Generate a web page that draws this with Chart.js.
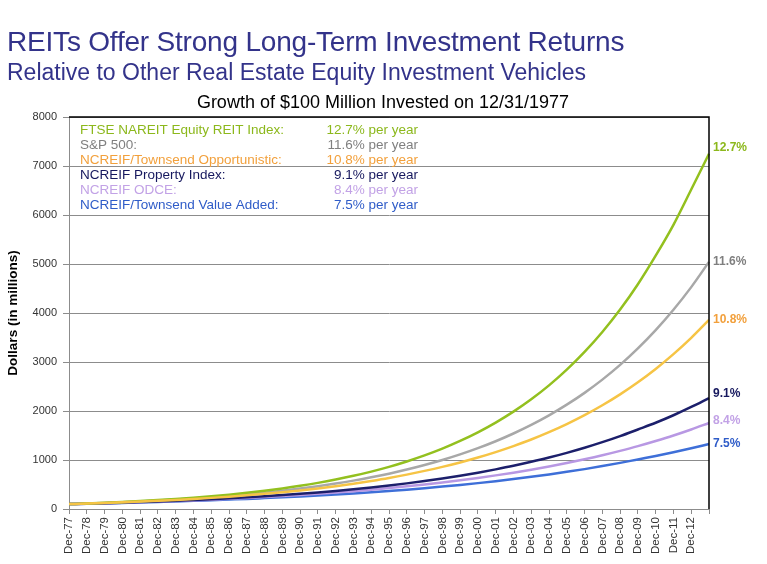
<!DOCTYPE html>
<html><head><meta charset="utf-8">
<script src="https://cdn.jsdelivr.net/npm/chart.js@4/dist/chart.umd.min.js"></script>
<style>
html,body{margin:0;padding:0;background:#fff;}
#wrap{position:relative;width:767px;height:564px;overflow:hidden;}
#t1{position:absolute;left:7px;top:28px;font:28px/1 "Liberation Sans",Arial,sans-serif;color:#33338a;white-space:nowrap;letter-spacing:-0.2px;}
#t2{position:absolute;left:7px;top:61px;font:23px/1 "Liberation Sans",Arial,sans-serif;color:#33338a;white-space:nowrap;}
#c{position:absolute;left:0;top:0;}
</style></head>
<body>
<div id="wrap">
<canvas id="c" width="767" height="564"></canvas>
<div id="t1">REITs Offer Strong Long-Term Investment Returns</div>
<div id="t2">Relative to Other Real Estate Equity Investment Vehicles</div>
</div>
<script>
const categories = ["Dec-77","Dec-78","Dec-79","Dec-80","Dec-81","Dec-82","Dec-83","Dec-84","Dec-85","Dec-86","Dec-87","Dec-88","Dec-89","Dec-90","Dec-91","Dec-92","Dec-93","Dec-94","Dec-95","Dec-96","Dec-97","Dec-98","Dec-99","Dec-00","Dec-01","Dec-02","Dec-03","Dec-04","Dec-05","Dec-06","Dec-07","Dec-08","Dec-09","Dec-10","Dec-11","Dec-12",""];
const seriesNames = ["FTSE NAREIT Equity REIT Index:","S&P 500:","NCREIF/Townsend Opportunistic:","NCREIF Property Index:","NCREIF ODCE:","NCREIF/Townsend Value Added:"];
const rateLabels = ["12.7%","11.6%","10.8%","9.1%","8.4%","7.5%"];
const reitValues = [100,113,127,143,161,182,205,231,260,293,331,373,420,473,533,601,677,763,860,970,1093,1231,1388,1564,1763,1987,2239,2523,2844,3205,3612,4070,4587,5170,5800,6520,7250];
const sp500Values = [100,112,125,139,155,173,193,216,241,269,300,334,373,417,465,519,579,646,721,805,898,1000,1114,1241,1383,1541,1716,1911,2129,2370,2640,2941,3277,3650,4066,4528,5043];
const opportunisticValues = [100,111,123,136,151,167,185,205,227,252,279,309,342,379,420,466,516,572,633,702,778,860,950,1050,1161,1284,1418,1568,1733,1915,2117,2340,2587,2859,3160,3493,3860];
const propertyValues = [100,109,119,130,142,155,169,184,201,219,239,261,284,310,338,369,403,440,480,523,571,623,679,741,809,882,963,1050,1146,1250,1364,1488,1623,1760,1913,2082,2265];
const odceValues = [100,108,118,127,138,150,162,176,191,207,224,243,263,285,309,335,363,394,427,463,502,543,587,634,686,742,802,868,939,1015,1097,1187,1283,1388,1500,1623,1755];
const valueAddedValues = [100,108,116,124,134,144,154,166,178,192,206,222,238,256,275,296,318,342,368,395,425,457,491,528,567,610,656,705,758,814,876,941,1012,1081,1157,1239,1327];
const chartTitle = "Growth of $100 Million Invested on 12/31/1977";

const lineColors = ["#93c01f","#a8a8a8","#f6c445","#1c1f6b","#b898e3","#3e6fd8"];
const textColors = ["#8cb81c","#7f7f7f","#f2a03c","#16185e","#c2a2e6","#2f5cc8"];
const allValues = [reitValues,sp500Values,opportunisticValues,propertyValues,odceValues,valueAddedValues];
const FONT = '"Liberation Sans", Arial, sans-serif';

const extras = {
  id:'extras',
  afterDatasetsDraw(chart, args, opts){
    const ctx = chart.ctx, a = chart.chartArea;
    ctx.save();
    ctx.fillStyle = '#000';
    ctx.font = '18px ' + FONT;
    ctx.textAlign = 'center';
    ctx.textBaseline = 'middle';
    ctx.fillText(chartTitle, (a.left + a.right)/2 - 6, a.top - 14);
    ctx.strokeStyle = '#000'; ctx.lineWidth = 1.5;
    ctx.beginPath();
    ctx.moveTo(a.left, a.top); ctx.lineTo(a.right, a.top); ctx.lineTo(a.right, a.bottom);
    ctx.stroke();
    ctx.font = '13.5px ' + FONT;
    seriesNames.forEach((n,i)=>{
      const y = a.top + 13 + i*15;
      ctx.fillStyle = textColors[i];
      ctx.textAlign = 'left';
      ctx.fillText(n, a.left + 11, y);
      ctx.textAlign = 'right';
      ctx.fillText(rateLabels[i] + ' per year', a.left + 349, y);
    });
    ctx.font = 'bold 12px ' + FONT;
    ctx.textAlign = 'left';
    const dys = opts.dy || [];
    chart.data.datasets.forEach((ds,i)=>{
      const meta = chart.getDatasetMeta(i);
      const p = meta.data[meta.data.length-1];
      ctx.fillStyle = textColors[i];
      ctx.fillText(rateLabels[i], p.x + 4, p.y + (dys[i]||0));
    });
    ctx.restore();
  }
};

new Chart(document.getElementById('c'), {
  type:'line',
  data:{
    labels: categories,
    datasets: allValues.map((v,i)=>({
      label: seriesNames[i],
      data: v,
      borderColor: lineColors[i],
      backgroundColor: lineColors[i],
      borderWidth: 2.5,
      pointRadius: 0,
      cubicInterpolationMode: 'monotone',
      fill: false,
      order: i===2 ? 0 : i+1
    }))
  },
  options:{
    responsive:false,
    animation:false,
    layout:{padding:{top:117,left:0,right:58,bottom:0}},
    plugins:{
      legend:{display:false},
      tooltip:{enabled:false},
      title:{display:false},
      extras:{dy:[-6,0,0,-4,-2,0]}
    },
    scales:{
      x:{
        ticks:{autoSkip:false,maxRotation:90,minRotation:90,color:'#333',font:{family:FONT,size:11.5},padding:3},
        grid:{drawOnChartArea:false,drawTicks:true,tickLength:5,color:'#8c8c8c'},
        border:{color:'#8c8c8c'},
        afterFit(s){s.height=55;}
      },
      y:{
        min:0,max:8000,
        ticks:{stepSize:1000,color:'#333',font:{family:FONT,size:11},padding:6,callback:v=>String(v)},
        grid:{color:'#8c8c8c',lineWidth:1,tickLength:6},
        border:{color:'#8c8c8c'},
        title:{display:true,text:'Dollars (in millions)',color:'#000',font:{family:FONT,size:13.5,weight:'bold'},padding:{top:5,bottom:0}},
        afterFit(s){s.width=69;}
      }
    }
  },
  plugins:[extras]
});
</script>
</body></html>
